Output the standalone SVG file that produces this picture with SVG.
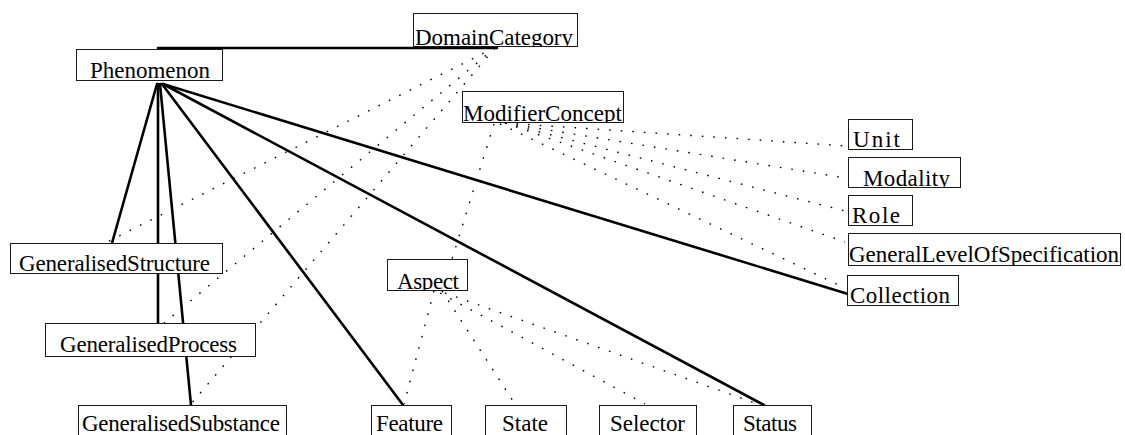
<svg xmlns="http://www.w3.org/2000/svg" width="1125" height="435" viewBox="0 0 1125 435">
  <style>
    .box { fill: #fff; stroke: #1a1a1a; stroke-width: 1; }
    text { font-family: "Liberation Serif", serif; font-size: 23px; fill: #000; }
    .strong { stroke: #000; stroke-width: 2.6; fill: none; stroke-linecap: round; }
    .weak { stroke: #000; stroke-width: 1.4; fill: none; stroke-dasharray: 1.6 10; }
  </style>
  <defs>
    <!-- label clips: descenders are cut off at the bottom edge of their box -->
    <clipPath id="clip-domain"><rect x="414" y="14" width="163" height="32"/></clipPath>
    <clipPath id="clip-modifier"><rect x="463" y="92" width="160" height="30"/></clipPath>
    <clipPath id="clip-modality"><rect x="849" y="158" width="111" height="29"/></clipPath>
    <clipPath id="clip-glos"><rect x="849" y="234" width="271" height="31"/></clipPath>
    <clipPath id="clip-aspect"><rect x="388" y="260" width="79" height="30"/></clipPath>
  </defs>
  <rect width="1125" height="435" fill="#fff"/>

  <g id="connectors">
    <!-- solid relations from Phenomenon -->
    <line class="strong" x1="158" y1="48" x2="497" y2="48"/>
    <line class="strong" x1="157" y1="84" x2="112" y2="243"/>
    <line class="strong" x1="158" y1="84" x2="158" y2="323"/>
    <line class="strong" x1="160" y1="84" x2="191" y2="405"/>
    <line class="strong" x1="162" y1="84" x2="403" y2="405"/>
    <line class="strong" x1="163" y1="84" x2="764" y2="405"/>
    <line class="strong" x1="163" y1="84" x2="848" y2="294"/>

    <!-- dotted relations from DomainCategory -->
    <line class="weak" x1="494" y1="48" x2="105" y2="243"/>
    <line class="weak" x1="495" y1="48" x2="164" y2="323"/>
    <line class="weak" x1="495" y1="48" x2="190" y2="405"/>

    <!-- dotted relations from ModifierConcept -->
    <line class="weak" x1="494" y1="124" x2="452" y2="259"/>
    <line class="weak" x1="505" y1="123" x2="847" y2="146"/>
    <line class="weak" x1="505" y1="123" x2="846" y2="178"/>
    <line class="weak" x1="505" y1="123" x2="845" y2="211"/>
    <line class="weak" x1="505" y1="123" x2="845" y2="242"/>
    <line class="weak" x1="500" y1="124" x2="845" y2="288"/>

    <!-- dotted relations from Aspect -->
    <line class="weak" x1="434" y1="291" x2="404" y2="404"/>
    <line class="weak" x1="442" y1="291" x2="515" y2="404"/>
    <line class="weak" x1="440" y1="293" x2="645" y2="404"/>
    <line class="weak" x1="445" y1="293" x2="758" y2="404"/>
  </g>

  <g id="node-domaincategory">
    <rect class="box" x="413.5" y="13.5" width="164" height="33"/>
    <text x="415" y="45" textLength="158" lengthAdjust="spacing" clip-path="url(#clip-domain)">DomainCategory</text>
  </g>
  <g id="node-phenomenon">
    <rect class="box" x="76.5" y="49.5" width="146" height="31"/>
    <text x="90" y="78" textLength="120" lengthAdjust="spacing">Phenomenon</text>
  </g>
  <g id="node-modifierconcept">
    <rect class="box" x="462.5" y="91.5" width="161" height="31"/>
    <text x="463" y="121" textLength="159" lengthAdjust="spacing" clip-path="url(#clip-modifier)">ModifierConcept</text>
  </g>
  <g id="node-unit">
    <rect class="box" x="848.5" y="119.5" width="64" height="30"/>
    <text x="853" y="147" textLength="47" lengthAdjust="spacing">Unit</text>
  </g>
  <g id="node-modality">
    <rect class="box" x="848.5" y="157.5" width="112" height="30"/>
    <text x="863" y="186" textLength="87" lengthAdjust="spacing" clip-path="url(#clip-modality)">Modality</text>
  </g>
  <g id="node-role">
    <rect class="box" x="848.5" y="195.5" width="64" height="30"/>
    <text x="852" y="223" textLength="48" lengthAdjust="spacing">Role</text>
  </g>
  <g id="node-generallevelofspecification">
    <rect class="box" x="848.5" y="233.5" width="272" height="32"/>
    <text x="849" y="262" textLength="270" lengthAdjust="spacing" clip-path="url(#clip-glos)">GeneralLevelOfSpecification</text>
  </g>
  <g id="node-collection">
    <rect class="box" x="847.5" y="275.5" width="111" height="30"/>
    <text x="850" y="303" textLength="100" lengthAdjust="spacing">Collection</text>
  </g>
  <g id="node-generalisedstructure">
    <rect class="box" x="10.5" y="243.5" width="212" height="30"/>
    <text x="19" y="271" textLength="191" lengthAdjust="spacing">GeneralisedStructure</text>
  </g>
  <g id="node-generalisedprocess">
    <rect class="box" x="45.5" y="323.5" width="210" height="33"/>
    <text x="60" y="351.5" textLength="177" lengthAdjust="spacing">GeneralisedProcess</text>
  </g>
  <g id="node-generalisedsubstance">
    <rect class="box" x="78.5" y="405.5" width="208" height="40"/>
    <text x="82" y="431" textLength="198" lengthAdjust="spacing">GeneralisedSubstance</text>
  </g>
  <g id="node-aspect">
    <rect class="box" x="387.5" y="259.5" width="80" height="31"/>
    <text x="397" y="289" textLength="62" lengthAdjust="spacing" clip-path="url(#clip-aspect)">Aspect</text>
  </g>
  <g id="node-feature">
    <rect class="box" x="371.5" y="405.5" width="80" height="40"/>
    <text x="376" y="431" textLength="67" lengthAdjust="spacing">Feature</text>
  </g>
  <g id="node-state">
    <rect class="box" x="485.5" y="405.5" width="81" height="40"/>
    <text x="502" y="431" textLength="46" lengthAdjust="spacing">State</text>
  </g>
  <g id="node-selector">
    <rect class="box" x="599.5" y="405.5" width="97" height="40"/>
    <text x="610" y="431" textLength="75" lengthAdjust="spacing">Selector</text>
  </g>
  <g id="node-status">
    <rect class="box" x="733.5" y="405.5" width="78" height="40"/>
    <text x="743" y="431" textLength="54" lengthAdjust="spacing">Status</text>
  </g>
</svg>
